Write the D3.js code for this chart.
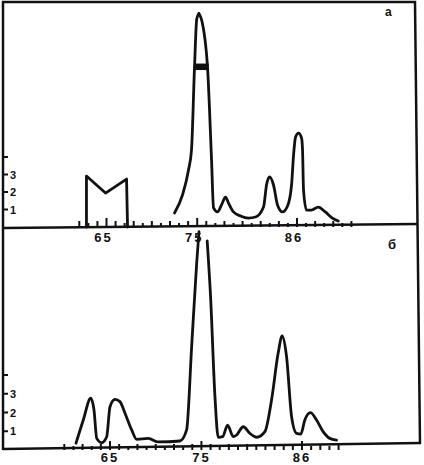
<!DOCTYPE html>
<html>
<head>
<meta charset="utf-8">
<script src="https://cdn.jsdelivr.net/npm/d3@7"></script>
<style>
    body { margin: 0; background: #fff; }
    svg { display: block; }
</style>
</head>
<body>
<svg width="424" height="465"></svg>
<script>
// x tick range and labelled ticks
let tickLabels = [65, 75, 86];
let ticksA = d3.range(62, 93);
let ticksB = d3.range(60, 91);
let yTicks = [1, 2, 3, 4];
let yTickLabels = ["1", "2", "3", ""];

// panel a: box-shaped trace on the left
let aBoxX = [62.79, 62.79, 64.89, 67.21, 67.32];
let aBoxY = [0, 2.91, 1.94, 2.74, 0];

// panel a: main trace, rising side (up to the apex)
let aRiseX = [72.50, 73.38, 74.04, 74.37, 74.70, 74.95, 75.18];
let aRiseY = [0.80, 1.83, 3.26, 4.40, 9.09, 11.9, 12.2];

// panel a: main trace, falling side (from the apex on)
let aFallX = [75.18, 75.45, 76.14, 76.58, 76.80, 77.24,
    77.68, 78.12, 78.45, 79.00, 79.77, 80.66, 81.43, 82.31, 82.64, 82.97, 83.41, 83.85, 84.40,
    84.96, 85.40, 85.62, 85.84, 86.17, 86.50, 86.61, 86.72, 87.05, 87.60, 88.35, 89.12, 89.90, 90.55];
let aFallY = [12.2, 11.9, 9.09, 3.83, 1.09, 0.86,
    1.26, 1.71, 1.37, 0.86, 0.63, 0.51, 0.57, 1.14, 2.40, 2.86, 2.40, 1.26, 0.86,
    1.20, 2.40, 4.11, 5.14, 5.37, 5.09, 4.40, 2.11, 0.97, 0.97, 1.14, 0.86, 0.51, 0.34];

// panel a: marker bar across the main peak
let aBarX = [74.72, 76.27];
let aBarY = [9.34, 8.97];

// panel b: trace (null = break at the top of the main peak)
let bMainX = [61.28, 62.08, 62.89, 63.25, 63.55, 64.09, 64.64, 65.0, 65.55, 66.09, 66.64, 67.37,
    67.92, 69.19, 70.28, 72.65, 73.38, 73.93, 74.48, 74.73, 75.2, 75.63, 76.0, 76.48, 76.84,
    77.32, 77.86, 78.48, 78.85, 79.57, 80.3, 81.03, 81.94, 82.67, 83.39, 83.83, 84.31, 84.86,
    85.4, 85.87, 86.31, 86.93, 87.59, 88.31, 89.04, 89.78];
let bMainY = [0.36, 1.6, 2.76, 2.13, 0.62, 0.39, 0.71, 2.31, 2.70, 2.58, 1.96, 1.07,
    0.57, 0.62, 0.43, 0.48, 1.07, 5.51, 9.96, 11.64, null, 11.15, 8.18, 2.84, 0.68,
    0.71, 1.33, 0.71, 0.8, 1.24, 0.89, 0.68, 0.98, 2.67, 5.16, 6.08, 4.98, 1.78,
    0.89, 0.85, 1.6, 1.99, 1.6, 0.98, 0.62, 0.53];

let svg = d3.select("svg");
let ink = "#111";

// scales of the two panels (scan is slightly skewed, so each has its own)
let xA = d3.scaleLinear().domain([65, 86]).range([106.5, 297]);
let yA = d3.scaleLinear().domain([0, 4]).range([227, 157]);
let xB = d3.scaleLinear().domain([65, 86]).range([110, 302]);
let yB = d3.scaleLinear().domain([0, 4]).range([450, 375]);

// frame and the two base lines
let frame = svg.append("g")
    .attr("fill", "none")
    .attr("stroke", ink)
    .attr("stroke-width", 2.5);
frame.append("polyline").attr("points", "3,450 3,2 415,2 420,444");
frame.append("line").attr("x1", 3).attr("y1", 228).attr("x2", 417).attr("y2", 224);
frame.append("line").attr("x1", 3).attr("y1", 449).attr("x2", 421).attr("y2", 443);

/**
 * draws ticks and labels of one panel
 */
function drawAxes(x, y, ticks, labelDx, labelY) {
    let g = svg.append("g");
    g.selectAll("line.xt")
        .data(ticks)
        .enter()
        .append("line")
        .attr("class", "xt")
        .attr("x1", d => x(d))
        .attr("x2", d => x(d))
        .attr("y1", y(0))
        .attr("y2", d => y(0) - (tickLabels.indexOf(d) >= 0 ? 9 : (d % 2 ? 4 : 6)))
        .attr("stroke", ink)
        .attr("stroke-width", 2);

    g.selectAll("text.xl")
        .data(tickLabels)
        .enter()
        .append("text")
        .attr("class", "xl")
        .attr("x", d => x(d) + labelDx)
        .attr("y", labelY)
        .attr("text-anchor", "middle")
        .style("font-family", "Liberation Sans, Arial, sans-serif")
        .style("font-weight", "bold")
        .style("font-size", "13px")
        .style("letter-spacing", "2px")
        .attr("fill", ink)
        .text(d => d);

    g.selectAll("line.yt")
        .data(yTicks)
        .enter()
        .append("line")
        .attr("class", "yt")
        .attr("x1", 3)
        .attr("x2", 8)
        .attr("y1", d => y(d))
        .attr("y2", d => y(d))
        .attr("stroke", ink)
        .attr("stroke-width", 2);

    g.selectAll("text.yl")
        .data(yTicks)
        .enter()
        .append("text")
        .attr("class", "yl")
        .attr("x", 10)
        .attr("y", d => y(d) + 4)
        .style("font-family", "Liberation Sans, Arial, sans-serif")
        .style("font-weight", "bold")
        .style("font-size", "11px")
        .attr("fill", ink)
        .text((d, i) => yTickLabels[i]);
}

/**
 * draws one trace from x / y arrays
 */
function drawTrace(x, y, xs, ys, curve) {
    let pts = xs.map((v, i) => [v, ys[i]]);
    let line = d3.line()
        .defined(d => d[1] !== null)
        .x(d => x(d[0]))
        .y(d => y(d[1]))
        .curve(curve);
    svg.append("path")
        .datum(pts)
        .attr("d", line)
        .attr("fill", "none")
        .attr("stroke", ink)
        .attr("stroke-width", 2.8)
        .attr("stroke-linejoin", "round")
        .attr("stroke-linecap", "round");
}

drawAxes(xA, yA, ticksA, -3, 242);
drawAxes(xB, yB, ticksB, 0, 462);

drawTrace(xA, yA, aBoxX, aBoxY, d3.curveLinear);
drawTrace(xA, yA, aRiseX, aRiseY, d3.curveMonotoneX);
drawTrace(xA, yA, aFallX, aFallY, d3.curveMonotoneX);
drawTrace(xB, yB, bMainX, bMainY, d3.curveMonotoneX);

// filled bar across the main peak of panel a
svg.append("rect")
    .attr("x", xA(aBarX[0]))
    .attr("y", yA(aBarY[0]))
    .attr("width", xA(aBarX[1]) - xA(aBarX[0]))
    .attr("height", yA(aBarY[1]) - yA(aBarY[0]))
    .attr("fill", ink);

// panel letters
svg.append("text")
    .attr("x", 385).attr("y", 16)
    .style("font-family", "Liberation Sans, Arial, sans-serif")
    .style("font-weight", "bold")
    .style("font-size", "12px")
    .attr("fill", ink)
    .text("а");
svg.append("text")
    .attr("x", 388).attr("y", 249)
    .style("font-family", "Liberation Sans, Arial, sans-serif")
    .style("font-weight", "bold")
    .style("font-size", "13px")
    .attr("fill", ink)
    .text("б");
</script>
</body>
</html>
